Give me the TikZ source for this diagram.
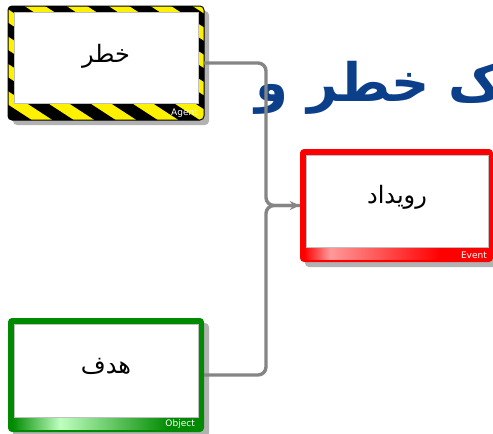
\documentclass[tikz,border=0pt]{standalone}
\usepackage{fontspec}
\setmainfont{DejaVu Sans}
\newfontfamily\arabicfont[Script=Arabic]{DejaVu Sans}
\TeXXeTstate=1
\usetikzlibrary{arrows.meta}
\definecolor{titleblue}{HTML}{0B3F8A}
\definecolor{conngray}{HTML}{858585}
\definecolor{hazyellow}{HTML}{FFF200}
\definecolor{evred}{HTML}{FF0000}
\definecolor{obgreen}{HTML}{008A00}
\tikzset{
  boxnode/.style={minimum width=196pt, minimum height=114pt, inner sep=0pt},
  shadowfill/.style={fill=black!30, rounded corners=4pt},
  innerwhite/.style={fill=white, draw=black!25, line width=0.6pt},
  boxtext/.style={font=\arabicfont\fontsize{24}{28}\selectfont, text=black},
  lbl/.style={font=\fontsize{9}{10}\selectfont, text=white, inner sep=1pt},
  conn/.style={draw=conngray, line width=3.4pt, rounded corners=8pt},
  title/.style={font=\arabicfont\bfseries\fontsize{53}{60}\selectfont, text=titleblue, inner sep=0pt}
}
\begin{document}
\begin{tikzpicture}[x=1pt,y=-1pt]
\useasboundingbox (0,0) rectangle (493,434);
\fill[white] (0,0) rectangle (493,434);

% title (cut at the right edge)
\node[title, anchor=base east] (ttl) at (503,101) {\beginR ک خطر و\endR};

% ---------------- Agent box ----------------
\fill[shadowfill] (13,11) rectangle (209,125);
\begin{scope}
  \clip[rounded corners=4pt] (8,6) rectangle (204,120);
  \fill[hazyellow] (8,6) rectangle (204,120);
  \foreach \i in {-6,...,8} {
    \fill[black] (\i*42-6,0) -- ++(21,0) -- ++(200,130) -- ++(-21,0) -- cycle;
  }
\end{scope}
\draw[black, line width=1pt, rounded corners=4pt] (8,6) rectangle (204,120);
\fill[innerwhite] (14,12) rectangle (198,103);
\node[boxnode] (agent) at (106,63) {};
\node[boxtext] (agenttext) at (106,56) {\beginR خطر\endR};
\node[lbl, anchor=south east] (agentlbl) at (199,119) {Agent};

% ---------------- Event box ----------------
\fill[shadowfill] (305,154) rectangle (498,267);
\fill[evred, rounded corners=4pt] (300,149) rectangle (493,262);
\shade[left color=evred, right color=red!40] (304,247) rectangle (330,259);
\shade[left color=red!40, right color=evred] (330,247) rectangle (440,259);
\fill[innerwhite] (306,155) rectangle (488,247);
\node[boxnode, minimum width=193pt, minimum height=113pt] (event) at (396.5,205.5) {};
\node[boxtext] (eventtext) at (397,197) {\beginR رویداد\endR};
\node[lbl, anchor=south east] (eventlbl) at (488,260) {Event};

% ---------------- Object box ----------------
\fill[shadowfill] (13,323) rectangle (209,437);
\fill[obgreen, rounded corners=4pt] (8,318) rectangle (204,432);
\shade[left color=obgreen, right color=green!25!white] (12,417) rectangle (60,429);
\shade[left color=green!25!white, right color=obgreen] (60,417) rectangle (170,429);
\fill[innerwhite] (14,324) rectangle (198,417);
\node[boxnode] (object) at (106,375) {};
\node[boxtext] (objecttext) at (106,366) {\beginR هدف\endR};
\node[lbl, anchor=south east] (objectlbl) at (196,430) {Object};

% ---------------- connectors ----------------
\coordinate (bus) at (266,205.5);
\draw[conn] (agent.east) -- (266,63) -- (bus) -- (event.west);
\draw[conn, -{Stealth[length=10pt,width=9pt]}] (object.east) -- (266,375) -- (bus) -- (event.west);
\end{tikzpicture}
\end{document}
